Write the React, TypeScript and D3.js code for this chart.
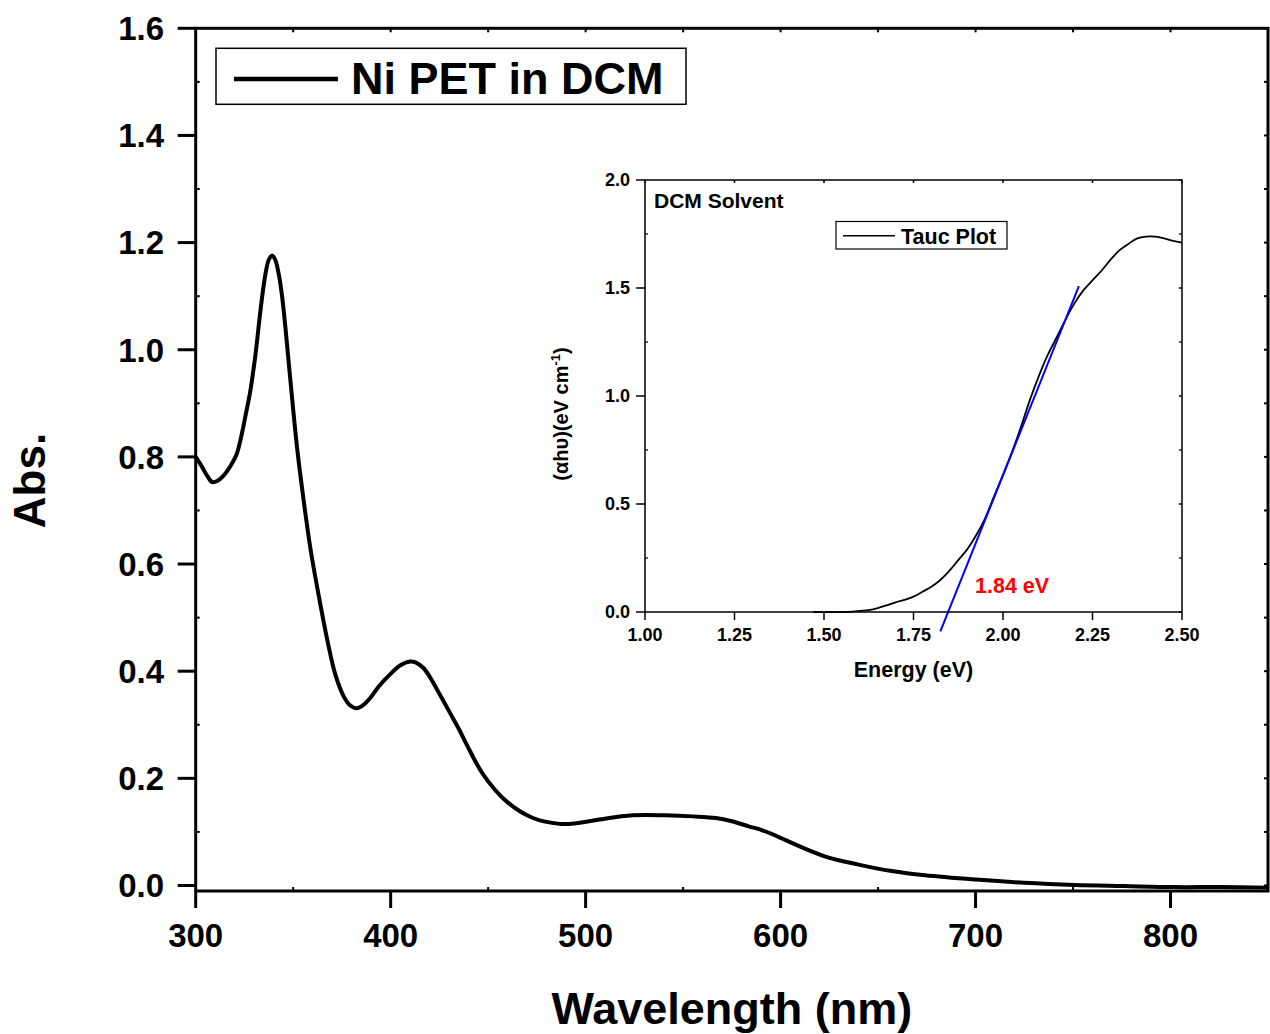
import React from "react";
import * as d3 from "d3";

// ---- Main spectrum data (Ni PET in DCM) ----
const wavelengths = [
  300, 303, 306, 308.5, 311, 314.5, 318, 321, 323, 325.6, 328, 330.7, 333.2, 335.8, 337.5, 339.2,
  340.8, 342.6, 344.3, 346, 348.6, 352, 355.4, 358.8, 363, 367.4, 371.6, 375.9, 379, 382.6, 386,
  389.5, 394, 399.7, 405, 410, 413, 416.8, 420, 423.6, 430, 435, 439, 447.5, 459.4, 473, 486.7,
  495, 507, 524, 541, 555, 566.8, 575, 584, 589, 600, 606, 623, 640, 657, 674, 700, 725, 751, 776,
  802, 825, 850,
];
const absorbance = [
  0.8, 0.783, 0.764, 0.753, 0.755, 0.766, 0.784, 0.805, 0.832, 0.878, 0.923, 0.992, 1.073, 1.142,
  1.168, 1.176, 1.168, 1.141, 1.1, 1.042, 0.942, 0.817, 0.718, 0.63, 0.543, 0.46, 0.394, 0.353,
  0.337, 0.331, 0.337, 0.35, 0.372, 0.394, 0.411, 0.418, 0.416, 0.406, 0.39, 0.367, 0.325, 0.292,
  0.263, 0.207, 0.157, 0.126, 0.115, 0.116, 0.123, 0.131, 0.131, 0.129, 0.126, 0.12, 0.11, 0.105,
  0.089, 0.079, 0.054, 0.039, 0.027, 0.019, 0.011, 0.005, 0.001, -0.001, -0.003, -0.003, -0.004,
];
const mainXTicks = [300, 400, 500, 600, 700, 800];
const mainXMinor = [350, 450, 550, 650, 750, 850];
const mainYTicks = [0, 0.2, 0.4, 0.6, 0.8, 1.0, 1.2, 1.4, 1.6];
const mainYMinor = [0.1, 0.3, 0.5, 0.7, 0.9, 1.1, 1.3, 1.5];

// ---- Inset Tauc plot data ----
const energies = [
  1.47, 1.5, 1.55, 1.58, 1.6, 1.625, 1.65, 1.675, 1.7, 1.725, 1.75, 1.775, 1.8, 1.825, 1.85, 1.875,
  1.9, 1.925, 1.95, 1.975, 2.0, 2.025, 2.05, 2.075, 2.1, 2.125, 2.15, 2.175, 2.2, 2.225, 2.25,
  2.275, 2.3, 2.325, 2.35, 2.375, 2.4, 2.425, 2.45, 2.475, 2.5,
];
const taucValues = [
  0.0, 0.0, 0.0, 0.002, 0.005, 0.009, 0.018, 0.031, 0.045, 0.056, 0.071, 0.094, 0.117, 0.148,
  0.19, 0.24, 0.29, 0.355, 0.434, 0.535, 0.635, 0.74, 0.856, 0.981, 1.092, 1.19, 1.272, 1.355,
  1.43, 1.49, 1.535, 1.58, 1.63, 1.674, 1.704, 1.73, 1.738, 1.738, 1.73, 1.718, 1.71,
];
const fitEnergies = [1.825, 2.212];
const fitValues = [-0.09, 1.509];
const insetXTicks = [1.0, 1.25, 1.5, 1.75, 2.0, 2.25, 2.5];
const insetYTicks = [0.0, 0.5, 1.0, 1.5, 2.0];
const insetYMinor = [0.25, 0.75, 1.25, 1.75];
const bandGapLabel = "1.84 eV";

const FONT = "'Liberation Sans', Arial, Helvetica, sans-serif";

export default function App() {
  const W = 1270;
  const H = 1034;
  // main plot
  const mL = 195.7, mR = 1268, mT = 28.3, mB = 891;
  const x = d3.scaleLinear().domain([300, 850]).range([mL, mR]);
  const y = d3.scaleLinear().domain([-0.0103, 1.6]).range([mB, mT]);
  const mainPts: [number, number][] = wavelengths.map((w, i) => [w, absorbance[i]]);
  const mainLine = d3
    .line<[number, number]>()
    .x((d) => x(d[0]))
    .y((d) => y(d[1]))
    .curve(d3.curveCatmullRom.alpha(0.5));

  // inset
  const iL = 645, iR = 1182, iT = 180, iB = 612;
  const ix = d3.scaleLinear().domain([1.0, 2.5]).range([iL, iR]);
  const iy = d3.scaleLinear().domain([0, 2.0]).range([iB, iT]);
  const taucPts: [number, number][] = energies.map((e, i) => [e, taucValues[i]]);
  const taucLine = d3
    .line<[number, number]>()
    .x((d) => ix(d[0]))
    .y((d) => iy(d[1]))
    .curve(d3.curveCatmullRom.alpha(0.5));
  const fitPts: [number, number][] = fitEnergies.map((e, i) => [e, fitValues[i]]);
  const fitLine = d3
    .line<[number, number]>()
    .x((d) => ix(d[0]))
    .y((d) => iy(d[1]));

  const fmt2 = d3.format(".2f");
  const fmt1 = d3.format(".1f");

  return (
    <svg
      width={W}
      height={H}
      style={{ position: "absolute", left: 0, top: 0, background: "#fff" }}
      fontFamily={FONT}
      fontWeight="bold"
    >
      <rect x={0} y={0} width={W} height={H} fill="#fff" />

      {/* main curve */}
      <path d={mainLine(mainPts) || ""} fill="none" stroke="#000" strokeWidth={4} strokeLinejoin="round" />

      {/* main frame */}
      <rect x={mL} y={mT} width={mR - mL} height={mB - mT} fill="none" stroke="#000" strokeWidth={3} />

      {/* main x ticks */}
      {mainXTicks.map((t) => (
        <g key={"mx" + t}>
          <line x1={x(t)} x2={x(t)} y1={mB} y2={mB + 17} stroke="#000" strokeWidth={3} />
          <line x1={x(t)} x2={x(t)} y1={mT} y2={mT + 4} stroke="#000" strokeWidth={2} />
          <text x={x(t)} y={947} textAnchor="middle" fontSize={33}>
            {t}
          </text>
        </g>
      ))}
      {mainXMinor.map((t) => (
        <g key={"mxm" + t}>
          <line x1={x(t)} x2={x(t)} y1={mB} y2={mB - 4} stroke="#000" strokeWidth={2} />
          <line x1={x(t)} x2={x(t)} y1={mT} y2={mT + 4} stroke="#000" strokeWidth={2} />
        </g>
      ))}
      {/* main y ticks */}
      {mainYTicks.map((t) => (
        <g key={"my" + t}>
          <line x1={mL - 18} x2={mL} y1={y(t)} y2={y(t)} stroke="#000" strokeWidth={3} />
          <line x1={mR} x2={mR - 4} y1={y(t)} y2={y(t)} stroke="#000" strokeWidth={2} />
          <text x={164} y={y(t)} dy="0.36em" textAnchor="end" fontSize={33}>
            {fmt1(t)}
          </text>
        </g>
      ))}
      {mainYMinor.map((t) => (
        <g key={"mym" + t}>
          <line x1={mL} x2={mL + 4} y1={y(t)} y2={y(t)} stroke="#000" strokeWidth={2} />
          <line x1={mR} x2={mR - 4} y1={y(t)} y2={y(t)} stroke="#000" strokeWidth={2} />
        </g>
      ))}

      {/* main axis titles */}
      <text x={(mL + mR) / 2} y={1024} textAnchor="middle" fontSize={45}>
        Wavelength (nm)
      </text>
      <text transform={`translate(45,480.5) rotate(-90)`} textAnchor="middle" fontSize={44}>
        Abs.
      </text>

      {/* main legend */}
      <rect x={216} y={48.3} width={470} height={56} fill="#fff" stroke="#000" strokeWidth={1.5} />
      <line x1={234} x2={338} y1={79} y2={79} stroke="#000" strokeWidth={4.5} />
      <text x={351} y={94} fontSize={45}>
        Ni PET in DCM
      </text>

      {/* ---------- inset ---------- */}
      <path d={taucLine(taucPts) || ""} fill="none" stroke="#000" strokeWidth={1.8} />
      <path d={fitLine(fitPts) || ""} fill="none" stroke="#0000ff" strokeWidth={2} />
      <rect x={iL} y={iT} width={iR - iL} height={iB - iT} fill="none" stroke="#000" strokeWidth={1.5} />
      {insetXTicks.map((t) => (
        <g key={"ix" + t}>
          <line x1={ix(t)} x2={ix(t)} y1={iB} y2={iB + 8} stroke="#000" strokeWidth={1.5} />
          <line x1={ix(t)} x2={ix(t)} y1={iT} y2={iT + 3} stroke="#000" strokeWidth={1.5} />
          <text x={ix(t)} y={641} textAnchor="middle" fontSize={18}>
            {fmt2(t)}
          </text>
        </g>
      ))}
      {insetYTicks.map((t) => (
        <g key={"iy" + t}>
          <line x1={iL - 9} x2={iL} y1={iy(t)} y2={iy(t)} stroke="#000" strokeWidth={1.5} />
          <line x1={iR} x2={iR - 3} y1={iy(t)} y2={iy(t)} stroke="#000" strokeWidth={1.5} />
          <text x={630} y={iy(t)} dy="0.36em" textAnchor="end" fontSize={18}>
            {fmt1(t)}
          </text>
        </g>
      ))}
      {insetYMinor.map((t) => (
        <g key={"iym" + t}>
          <line x1={iL} x2={iL + 3} y1={iy(t)} y2={iy(t)} stroke="#000" strokeWidth={1.2} />
          <line x1={iR} x2={iR - 3} y1={iy(t)} y2={iy(t)} stroke="#000" strokeWidth={1.2} />
        </g>
      ))}

      <text x={654} y={208} fontSize={21}>
        DCM Solvent
      </text>
      <rect x={836} y={221.5} width={171} height={27.5} fill="#fff" stroke="#000" strokeWidth={1.2} />
      <line x1={843} x2={895} y1={235.7} y2={235.7} stroke="#000" strokeWidth={1.6} />
      <text x={901} y={244} fontSize={21.5}>
        Tauc Plot
      </text>
      <text x={975} y={593} fontSize={21.5} fill="#ff0000">
        {bandGapLabel}
      </text>
      <text x={(iL + iR) / 2} y={677} textAnchor="middle" fontSize={21.5}>
        Energy (eV)
      </text>
      <text transform={`translate(568,414) rotate(-90)`} textAnchor="middle" fontSize={20}>
        (αhυ)(eV cm
        <tspan fontSize={13} dy={-8}>
          -1
        </tspan>
        <tspan dy={8}>)</tspan>
      </text>
    </svg>
  );
}
